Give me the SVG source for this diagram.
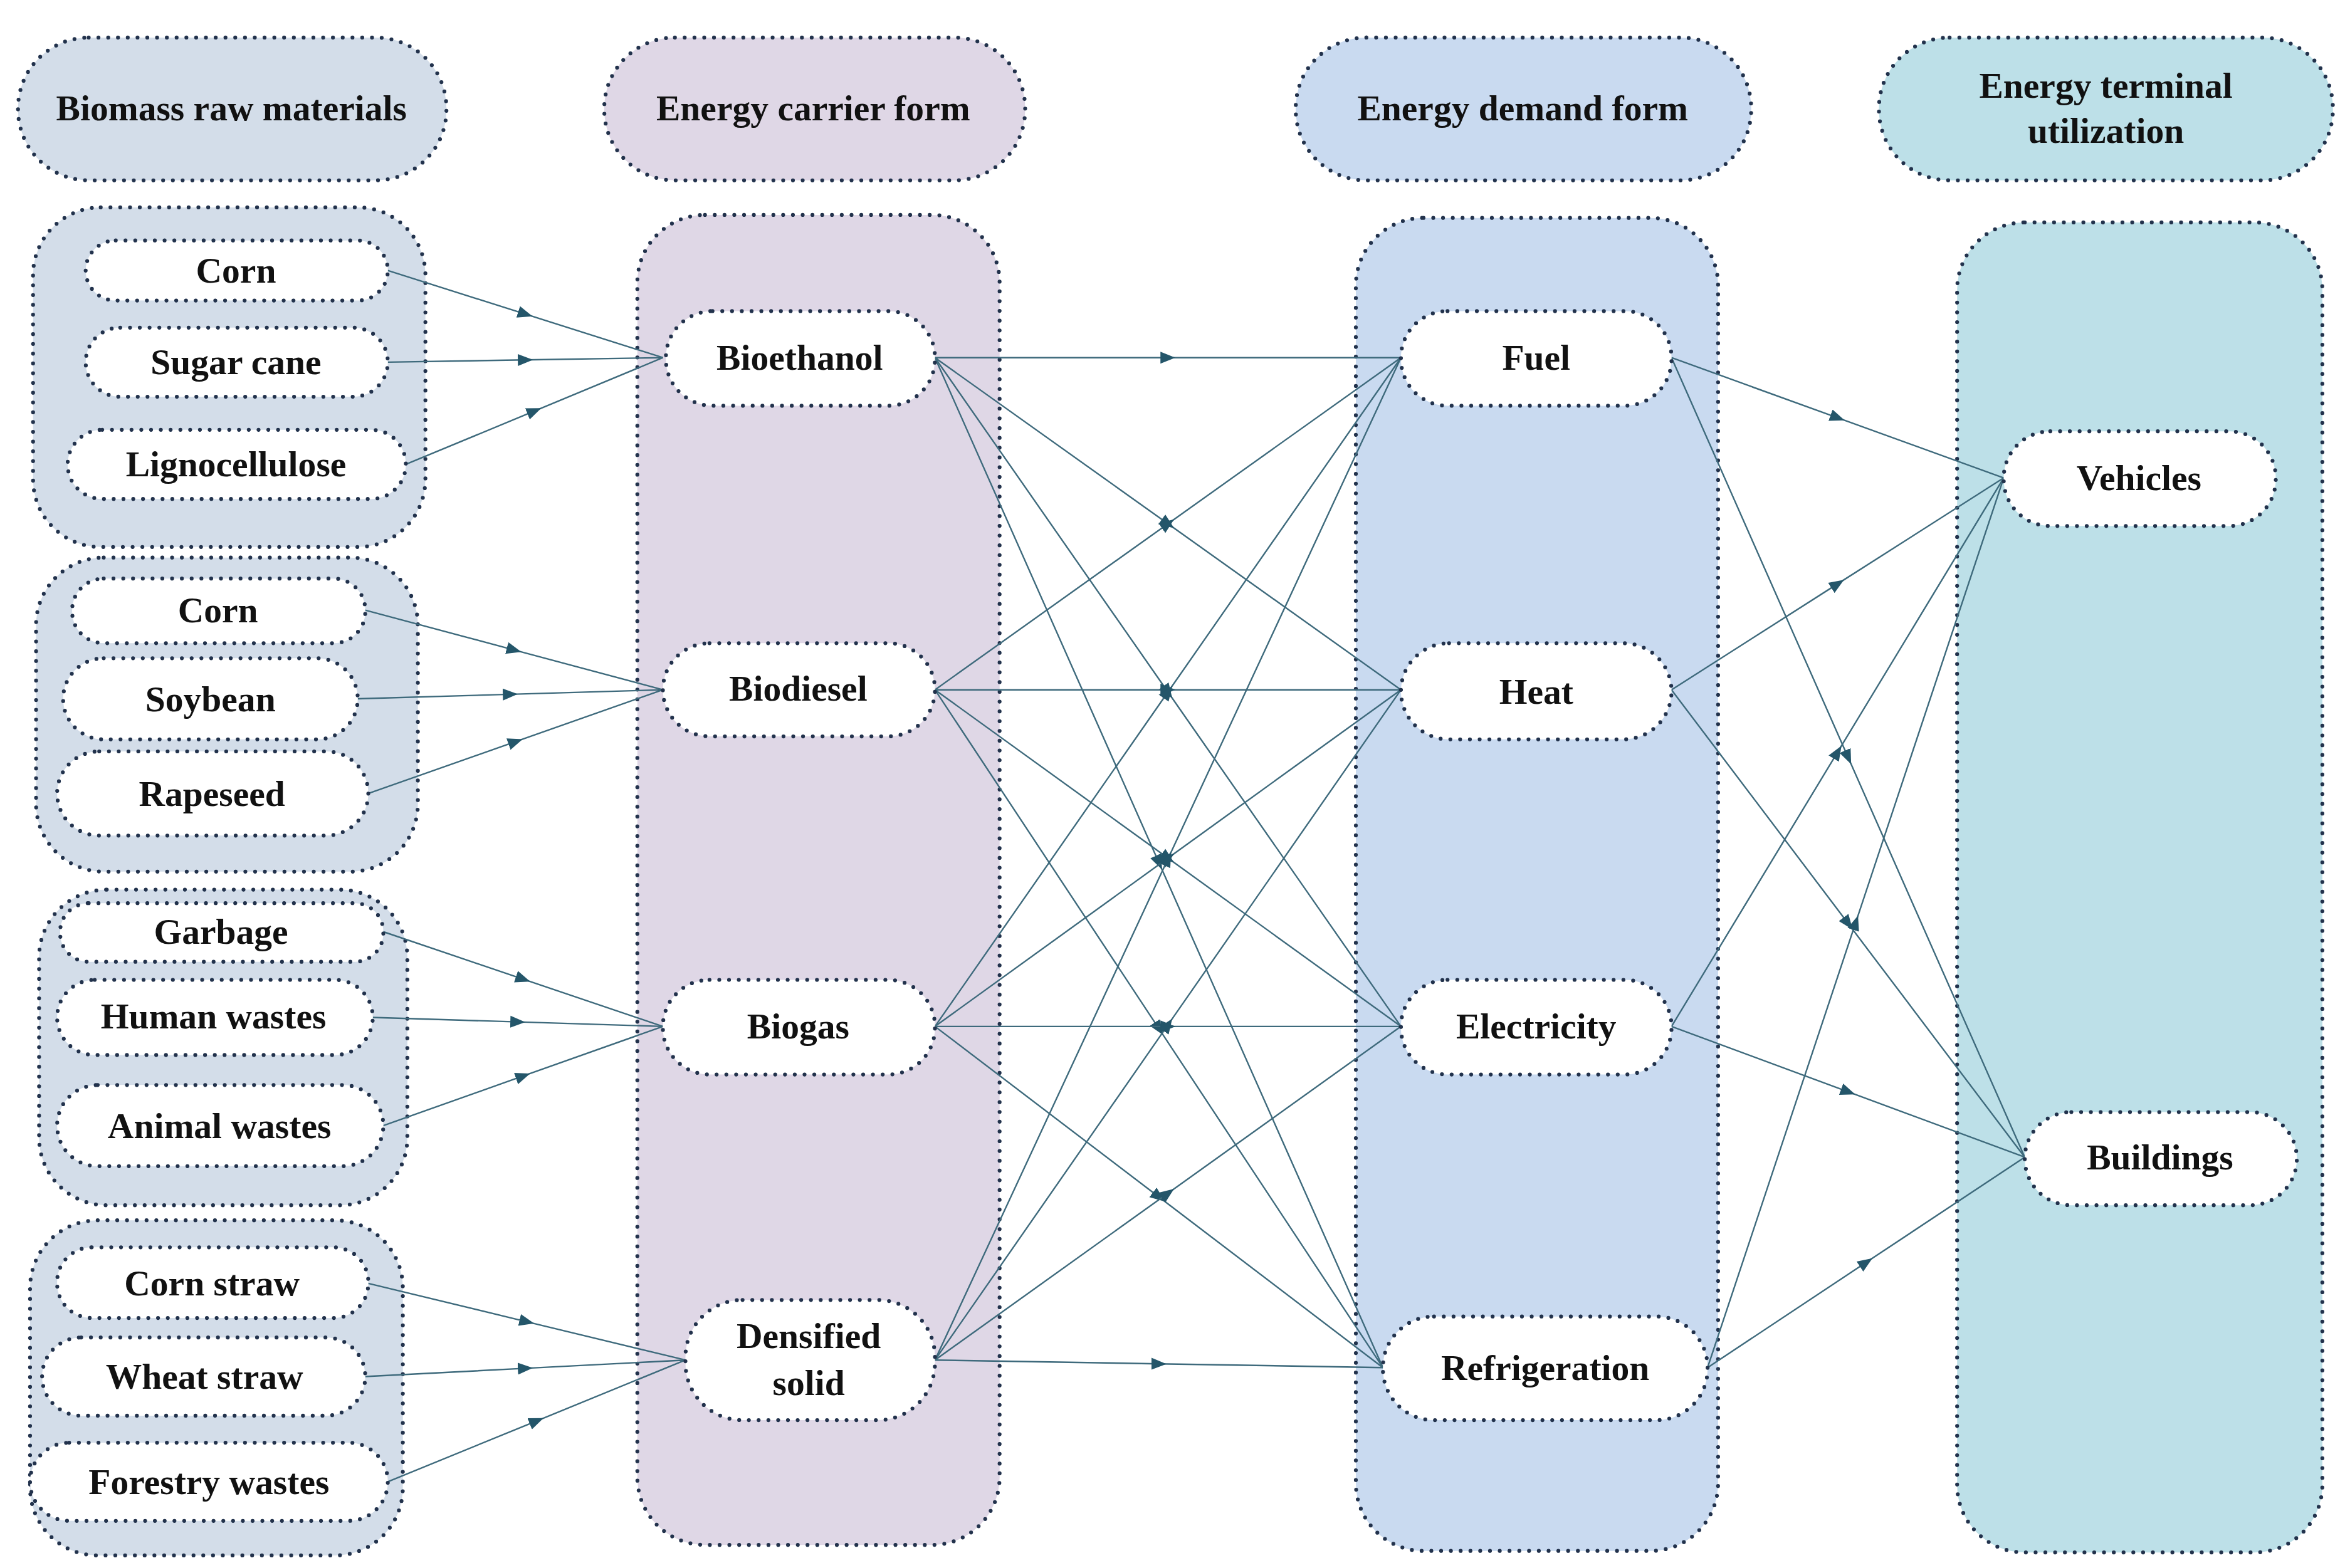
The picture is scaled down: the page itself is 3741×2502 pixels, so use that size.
<svg xmlns="http://www.w3.org/2000/svg" width="3741" height="2502" viewBox="0 0 3741 2502">
<style>
.b{stroke:#22324c;stroke-width:2.6;stroke-dasharray:0 6.5;stroke-linecap:round}
.n{fill:#fff}
.t{font-family:"Liberation Serif",serif;font-weight:bold;font-size:24px;fill:#111;text-anchor:middle;dominant-baseline:central}
.e{fill:none;stroke:#3e6a7c;stroke-width:1;marker-mid:url(#a)}
</style>
<defs>
<marker id="a" viewBox="0 0 10 10" refX="5" refY="5" markerWidth="10" markerHeight="10" markerUnits="userSpaceOnUse" orient="auto">
<path d="M0,1 L10,5 L0,9 Z" fill="#24566a"/>
</marker>
</defs>
<rect width="3741" height="2502" fill="#fff"/>
<g transform="scale(2.398)">
<g id="headers">
<g id="h1"><rect class="b" x="12" y="25" width="285" height="95" rx="47" fill="#d3dde9"/><text class="t" x="154" y="72">Biomass raw materials</text></g>
<g id="h2"><rect class="b" x="402" y="25" width="280" height="95" rx="47" fill="#dfd7e6"/><text class="t" x="541" y="72">Energy carrier form</text></g>
<g id="h3"><rect class="b" x="862" y="25" width="303" height="95" rx="47" fill="#c9daf0"/><text class="t" x="1013" y="72">Energy demand form</text></g>
<g id="h4"><rect class="b" x="1250" y="25" width="302" height="95" rx="47" fill="#bde0e8"/><text class="t" x="1401" y="57">Energy terminal</text><text class="t" x="1401" y="87">utilization</text></g>
</g>
<g id="containers">
<rect class="b" x="22" y="138" width="261" height="226" rx="45" fill="#d3dde9"/>
<rect class="b" x="24" y="371" width="254" height="209" rx="45" fill="#d3dde9"/>
<rect class="b" x="26" y="592" width="245" height="210" rx="45" fill="#d3dde9"/>
<rect class="b" x="20" y="812" width="248" height="223" rx="45" fill="#d3dde9"/>
<rect class="b" x="424" y="143" width="241" height="885" rx="45" fill="#dfd7e6"/>
<rect class="b" x="902" y="145" width="241" height="887" rx="45" fill="#c9daf0"/>
<rect class="b" x="1302" y="148" width="243" height="885" rx="45" fill="#bde0e8"/>
</g>
<g id="edges">
<polyline class="e" points="258,180 349.5,209 441,238"/>
<polyline class="e" points="258,241 349.5,239.5 441,238"/>
<polyline class="e" points="270,309 355.5,273.5 441,238"/>
<polyline class="e" points="243,406 342,432.5 441,459"/>
<polyline class="e" points="238,465 339.5,462 441,459"/>
<polyline class="e" points="245,528 343,493.5 441,459"/>
<polyline class="e" points="255,620 348,651.5 441,683"/>
<polyline class="e" points="248,677 344.5,680 441,683"/>
<polyline class="e" points="255,749 348,716 441,683"/>
<polyline class="e" points="245,854 350.5,879.5 456,905"/>
<polyline class="e" points="243,916 349.5,910.5 456,905"/>
<polyline class="e" points="258,986 357,945.5 456,905"/>
<polyline class="e" points="622,238 777,238 932,238"/>
<polyline class="e" points="622,238 777,348.5 932,459"/>
<polyline class="e" points="622,238 777,460.5 932,683"/>
<polyline class="e" points="622,238 771,574 920,910"/>
<polyline class="e" points="622,459 777,348.5 932,238"/>
<polyline class="e" points="622,459 777,459 932,459"/>
<polyline class="e" points="622,459 777,571 932,683"/>
<polyline class="e" points="622,459 771,684.5 920,910"/>
<polyline class="e" points="622,683 777,460.5 932,238"/>
<polyline class="e" points="622,683 777,571 932,459"/>
<polyline class="e" points="622,683 777,683 932,683"/>
<polyline class="e" points="622,683 771,796.5 920,910"/>
<polyline class="e" points="622,905 777,571.5 932,238"/>
<polyline class="e" points="622,905 777,682 932,459"/>
<polyline class="e" points="622,905 777,794 932,683"/>
<polyline class="e" points="622,905 771,907.5 920,910"/>
<polyline class="e" points="1112,238 1222.5,278 1333,318"/>
<polyline class="e" points="1112,238 1229.5,504 1347,770"/>
<polyline class="e" points="1112,459 1222.5,388.5 1333,318"/>
<polyline class="e" points="1112,459 1229.5,614.5 1347,770"/>
<polyline class="e" points="1112,683 1222.5,500.5 1333,318"/>
<polyline class="e" points="1112,683 1229.5,726.5 1347,770"/>
<polyline class="e" points="1136,910 1234.5,614 1333,318"/>
<polyline class="e" points="1136,910 1241.5,840 1347,770"/>
</g>
<g id="n-corn1"><rect class="b n" x="57" y="160" width="201" height="40" rx="20"/><text class="t" x="157" y="180">Corn</text></g>
<g id="n-sugarcane"><rect class="b n" x="57" y="218" width="201" height="46" rx="23"/><text class="t" x="157" y="241">Sugar cane</text></g>
<g id="n-ligno"><rect class="b n" x="45" y="286" width="225" height="46" rx="23"/><text class="t" x="157" y="309">Lignocellulose</text></g>
<g id="n-corn2"><rect class="b n" x="48" y="385" width="195" height="43" rx="21"/><text class="t" x="145" y="406">Corn</text></g>
<g id="n-soybean"><rect class="b n" x="42" y="438" width="196" height="54" rx="27"/><text class="t" x="140" y="465">Soybean</text></g>
<g id="n-rapeseed"><rect class="b n" x="38" y="500" width="207" height="56" rx="28"/><text class="t" x="141" y="528">Rapeseed</text></g>
<g id="n-garbage"><rect class="b n" x="40" y="601" width="215" height="39" rx="19"/><text class="t" x="147" y="620">Garbage</text></g>
<g id="n-human"><rect class="b n" x="38" y="652" width="210" height="50" rx="25"/><text class="t" x="142" y="676">Human wastes</text></g>
<g id="n-animal"><rect class="b n" x="38" y="722" width="217" height="54" rx="27"/><text class="t" x="146" y="749">Animal wastes</text></g>
<g id="n-cornstraw"><rect class="b n" x="38" y="830" width="207" height="47" rx="23"/><text class="t" x="141" y="854">Corn straw</text></g>
<g id="n-wheat"><rect class="b n" x="28" y="890" width="215" height="52" rx="26"/><text class="t" x="136" y="916">Wheat straw</text></g>
<g id="n-forestry"><rect class="b n" x="20" y="960" width="238" height="52" rx="26"/><text class="t" x="139" y="986">Forestry wastes</text></g>
<g id="n-bioethanol"><rect class="b n" x="443" y="207" width="179" height="63" rx="31"/><text class="t" x="532" y="238">Bioethanol</text></g>
<g id="n-biodiesel"><rect class="b n" x="441" y="428" width="181" height="62" rx="31"/><text class="t" x="531" y="458">Biodiesel</text></g>
<g id="n-biogas"><rect class="b n" x="441" y="652" width="181" height="63" rx="31"/><text class="t" x="531" y="683">Biogas</text></g>
<g id="n-densified"><rect class="b n" x="456" y="865" width="166" height="80" rx="38"/><text class="t" x="538" y="889">Densified</text><text class="t" x="538" y="920">solid</text></g>
<g id="n-fuel"><rect class="b n" x="932" y="207" width="180" height="63" rx="31"/><text class="t" x="1022" y="238">Fuel</text></g>
<g id="n-heat"><rect class="b n" x="932" y="428" width="180" height="64" rx="32"/><text class="t" x="1022" y="460">Heat</text></g>
<g id="n-electricity"><rect class="b n" x="932" y="652" width="180" height="63" rx="31"/><text class="t" x="1022" y="683">Electricity</text></g>
<g id="n-refrigeration"><rect class="b n" x="920" y="876" width="216" height="69" rx="34"/><text class="t" x="1028" y="910">Refrigeration</text></g>
<g id="n-vehicles"><rect class="b n" x="1333" y="287" width="181" height="63" rx="31"/><text class="t" x="1423" y="318">Vehicles</text></g>
<g id="n-buildings"><rect class="b n" x="1347" y="740" width="181" height="62" rx="31"/><text class="t" x="1437" y="770">Buildings</text></g>
</g>
</svg>
